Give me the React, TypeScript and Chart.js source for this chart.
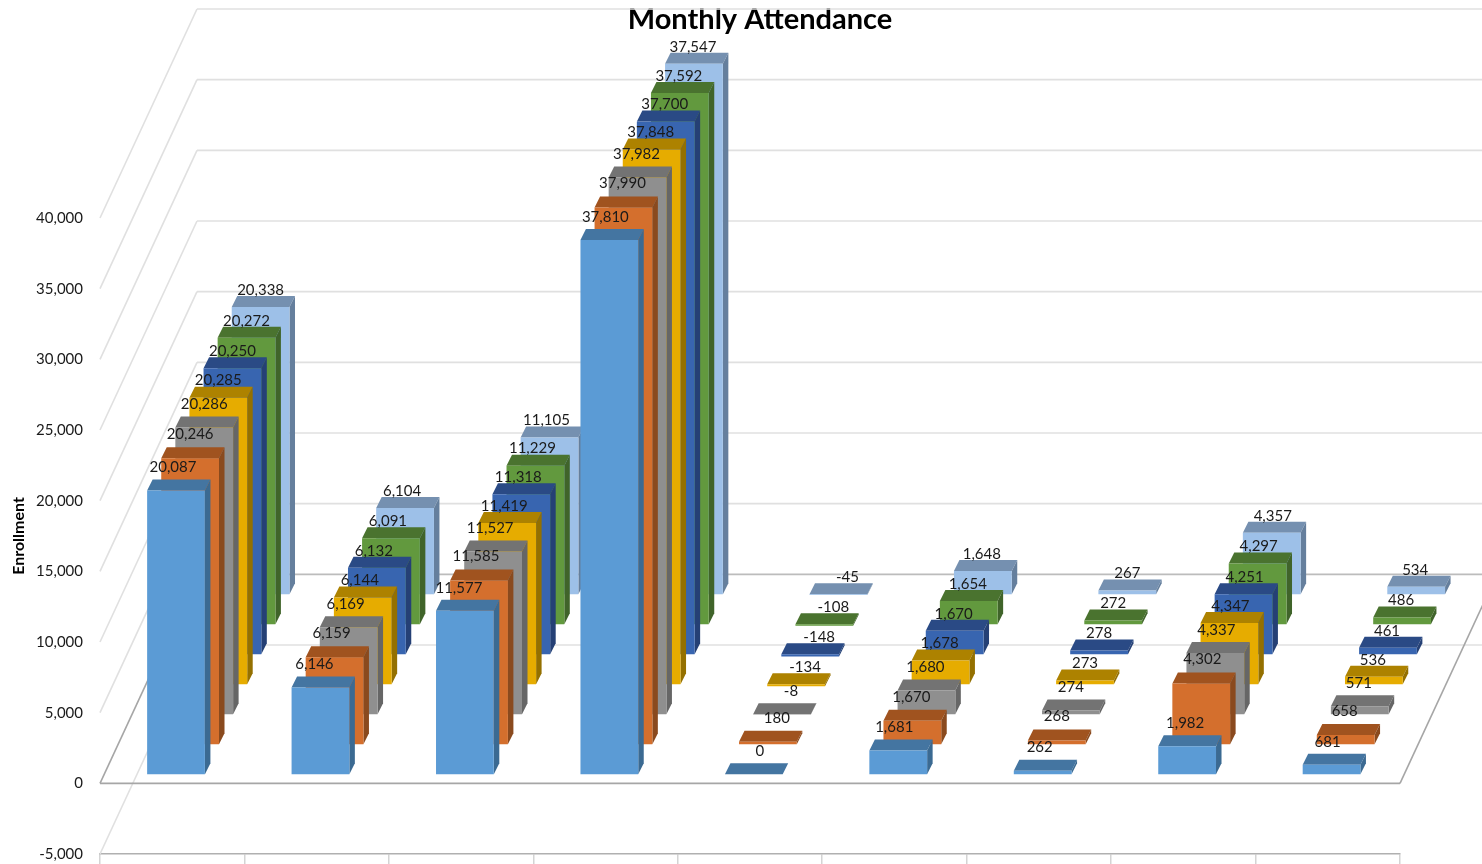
import React, { useEffect, useRef } from "react";
import { Chart, registerables } from "chart.js";

Chart.register(...registerables);

const categories = ["", "", "", "", "", "", "", "", ""];
const seriesNames = ["Month 1", "Month 2", "Month 3", "Month 4", "Month 5", "Month 6", "Month 7"];

const month1 = [20087, 6146, 11577, 37810, 0, 1681, 262, 1982, 681];
const month2 = [20246, 6159, 11585, 37990, 180, 1670, 268, 4302, 658];
const month3 = [20286, 6169, 11527, 37982, -8, 1680, 274, 4337, 571];
const month4 = [20285, 6144, 11419, 37848, -134, 1678, 273, 4347, 536];
const month5 = [20250, 6132, 11318, 37700, -148, 1670, 278, 4251, 461];
const month6 = [20272, 6091, 11229, 37592, -108, 1654, 272, 4297, 486];
const month7 = [20338, 6104, 11105, 37547, -45, 1648, 267, 4357, 534];
const seriesValues = [month1, month2, month3, month4, month5, month6, month7];

const yTicks = { min: -5000, max: 40000, step: 5000 };

const frontColors = ["#5B9BD5", "#D46F2D", "#8F8F8F", "#E6AC00", "#3865B0", "#62993E", "#9DC0E8"];
const topColors = ["#4475A1", "#A0531F", "#737373", "#AD8200", "#2A4A85", "#4A732F", "#7590B0"];
const sideColors = ["#3B6A92", "#8A4A1E", "#666666", "#947000", "#254075", "#40642A", "#657F9D"];

const FONT = "Lato, 'Open Sans', sans-serif";
const WALL = { dx: 97, dy: -209 };
const SERIES_STEP = { dx: 14.1, dy: -30 };
const SERIES_START = { dx: 3.8, dy: -9 };
const BAR_DEPTH = { dx: 5.5, dy: -11 };
const LABEL_SHIFT = [
  { dx: -3, dy: -23 },
  { dx: 0, dy: -24 },
  { dx: 0, dy: -23 },
  { dx: 0, dy: -17 },
  { dx: 0, dy: -17 },
  { dx: 0, dy: -17 },
  { dx: 0, dy: -17 },
];
const CATEGORY_LABEL_DX = [0, -3, -3, -1, 9, -1, 0, 1, -1];

const fmt = new Intl.NumberFormat("en-US");

const poly = (ctx: CanvasRenderingContext2D, pts: number[][], color: string) => {
  ctx.fillStyle = color;
  ctx.beginPath();
  pts.forEach(([x, y], i) => (i ? ctx.lineTo(x, y) : ctx.moveTo(x, y)));
  ctx.closePath();
  ctx.fill();
};

const line = (ctx: CanvasRenderingContext2D, a: number[], b: number[], color: string, w: number) => {
  ctx.strokeStyle = color;
  ctx.lineWidth = w;
  ctx.beginPath();
  ctx.moveTo(a[0], a[1]);
  ctx.lineTo(b[0], b[1]);
  ctx.stroke();
};

const seriesOffset = (i: number) => ({
  dx: SERIES_START.dx + SERIES_STEP.dx * i,
  dy: SERIES_START.dy + SERIES_STEP.dy * i,
});

const threeD = {
  id: "threeD",
  afterLayout(chart: any) {
    if (chart.titleBlock) {
      chart.titleBlock.left = 38;
      chart.titleBlock.right = 1482;
    }
  },
  beforeDatasetsDraw(chart: any) {
    const { ctx, chartArea, scales } = chart;
    const { left, right } = chartArea;
    const y = scales.y;
    ctx.save();
    y.ticks.forEach((t: any) => {
      const py = y.getPixelForValue(t.value);
      const isZero = t.value === 0;
      line(ctx, [left + WALL.dx, py + WALL.dy], [right + WALL.dx, py + WALL.dy], isZero ? "#bcbcbc" : "#e0e0e0", 1.6);
      if (!isZero) line(ctx, [left, py], [left + WALL.dx, py + WALL.dy], "#e0e0e0", 1.6);
    });
    const y0 = y.getPixelForValue(0);
    line(ctx, [left, y0], [left + WALL.dx, y0 + WALL.dy], "#a6a6a6", 1.6);
    line(ctx, [right, y0], [right + WALL.dx, y0 + WALL.dy], "#a6a6a6", 1.6);
    line(ctx, [left, y0], [right, y0], "#a6a6a6", 1.6);
    ctx.restore();
  },
  beforeDatasetDraw(chart: any, args: any) {
    const { ctx } = chart;
    const i = args.index;
    const off = seriesOffset(i);
    ctx.save();
    args.meta.data.forEach((el: any) => {
      const { x, y, base, width } = el.getProps(["x", "y", "base", "width"], true);
      const l = x - width / 2 + off.dx;
      const r = x + width / 2 + off.dx;
      const t = Math.min(y, base) + off.dy;
      const b = Math.max(y, base) + off.dy;
      const d = BAR_DEPTH;
      poly(ctx, [[l, t], [l + d.dx, t + d.dy], [r + d.dx, t + d.dy], [r, t]], topColors[i]);
      poly(ctx, [[r, t], [r + d.dx, t + d.dy], [r + d.dx, b + d.dy], [r, b]], sideColors[i]);
      if (b > t) poly(ctx, [[l, t], [r, t], [r, b], [l, b]], frontColors[i]);
    });
    ctx.restore();
    return false;
  },
  afterDatasetsDraw(chart: any) {
    const { ctx } = chart;
    ctx.save();
    ctx.font = `15px ${FONT}`;
    ctx.fillStyle = "#1a1a1a";
    ctx.textAlign = "center";
    ctx.textBaseline = "middle";
    chart.data.datasets.forEach((ds: any, i: number) => {
      const meta = chart.getDatasetMeta(i);
      const off = seriesOffset(i);
      const shift = LABEL_SHIFT[i];
      meta.data.forEach((el: any, j: number) => {
        const { x, y, base } = el.getProps(["x", "y", "base"], true);
        const top = Math.min(y, base);
        ctx.fillText(
          fmt.format(ds.data[j]),
          x + off.dx + shift.dx + CATEGORY_LABEL_DX[j],
          top + off.dy + shift.dy
        );
      });
    });
    ctx.restore();
  },
};

export default function App() {
  const ref = useRef<HTMLCanvasElement>(null);
  useEffect(() => {
    const chart = new Chart(ref.current as HTMLCanvasElement, {
      type: "bar",
      data: {
        labels: categories,
        datasets: seriesValues.map((data, i) => ({
          label: seriesNames[i],
          data,
          backgroundColor: frontColors[i],
          grouped: false,
          barPercentage: 0.4,
          categoryPercentage: 1,
        })),
      },
      options: {
        animation: false,
        responsive: false,
        devicePixelRatio: 1,
        layout: { padding: { left: 0, right: 82, top: 0, bottom: 0 } },
        plugins: {
          legend: { display: false },
          tooltip: { enabled: false },
          title: {
            display: true,
            text: "Monthly Attendance",
            color: "#000000",
            font: { family: FONT, size: 29, weight: "bold", lineHeight: 1.2 },
            padding: { top: 2, bottom: 181.2 },
          },
        },
        scales: {
          x: {
            type: "category",
            offset: true,
            afterFit: (s: any) => {
              s.height = 10;
            },
            ticks: { display: false, autoSkip: false },
            border: { display: true, color: "#b0b0b0", width: 1.6 },
            grid: {
              offset: true,
              drawOnChartArea: false,
              drawTicks: true,
              tickLength: 10,
              color: "#d4d4d4",
              lineWidth: 1.5,
            },
          },
          y: {
            type: "linear",
            min: yTicks.min,
            max: yTicks.max,
            afterFit: (s: any) => {
              s.width = 100;
              s.paddingTop = 0;
              s.paddingBottom = 0;
            },
            ticks: {
              stepSize: yTicks.step,
              padding: 17,
              color: "#1a1a1a",
              font: { family: FONT, size: 15 },
              callback: (v: any) => fmt.format(Number(v)),
            },
            border: { display: false },
            grid: { display: false, drawTicks: false, tickLength: 0 },
            title: {
              display: true,
              text: "Enrollment",
              color: "#000000",
              font: { family: FONT, size: 16, weight: "bold", lineHeight: 1.2 },
              padding: { top: 9.4, bottom: 0 },
            },
          },
        },
      } as any,
      plugins: [threeD as any],
    });
    return () => chart.destroy();
  }, []);
  return (
    <canvas
      ref={ref}
      width={1482}
      height={864}
      style={{ position: "fixed", left: 0, top: 0, display: "block", width: 1482, height: 864 }}
    />
  );
}
